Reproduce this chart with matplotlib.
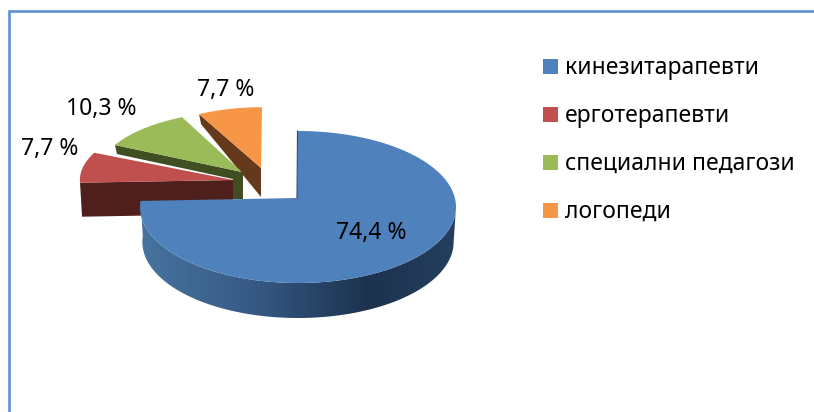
import numpy as np
from matplotlib import pyplot as plt
from matplotlib.patches import Polygon, Rectangle
from matplotlib.colors import LinearSegmentedColormap

plt.rcParams['font.family'] = ['Noto Sans', 'DejaVu Sans']

# data
categories = ['кинезитарапевти', 'ерготерапевти', 'специални педагози', 'логопеди']
values = [74.4, 7.7, 10.3, 7.7]

# styles
top_colors = ['#4f81bd', '#c0504d', '#9bbb59', '#f79646']
face_colors = ['#1f3552', '#4f1f1c', '#3f4f22', '#653a1c']
frame_color = '#5f90cf'

# layout, all in pixels of the picture
RX, RY = 158, 76
# apex of each slice, then the rim centre offset and the perspective shrink
apex = [(297, 198), (233, 180), (242, 172), (261, 168)]
rim_dx = [1, -3, 11, 1]
rim_dy = [9, 0, -1, 0]
scale_x = [1.0, 0.95, 0.966, 0.857]
scale_y = [1.0, 0.84, 0.8, 0.8]
# perspective moves the far end of the big slice round the rim a little
big_slice_skew = 7
label_pos = [(371, 233), (50, 149), (101, 109), (226, 90)]


def rim(i, th):
    """point(s) on the rim of slice i, th in degrees clockwise from 12 o'clock"""
    th = np.radians(th)
    x = apex[i][0] + rim_dx[i] + RX * scale_x[i] * np.sin(th)
    y = apex[i][1] + rim_dy[i] - RY * scale_y[i] * np.cos(th)
    return x, y


fig = plt.figure(figsize=(8.14, 4.12), dpi=100)
ax = fig.add_axes([0, 0, 1, 1])

total = sum(values)
edges = np.cumsum([0] + values) / total * 360
big_end = edges[1] + big_slice_skew

# side of the big slice, shaded from left to right
th = np.linspace(90, big_end, 200)
x, y = rim(0, th)
x_low = 298 + (x - 298) * 0.985
side = Polygon(np.vstack([np.column_stack([x, y]), np.column_stack([x_low, y + 35])[::-1]]),
               closed=True, fc='none', ec='none', zorder=2)
ax.add_patch(side)
cmap = LinearSegmentedColormap.from_list('side', [(0, '#47739f'), (0.35, '#375a85'), (0.72, '#1c324f'), (1, '#253f5e')])
im = ax.imshow(np.linspace(0, 1, 320).reshape(1, -1), cmap=cmap, extent=(141, 457, 325, 190),
               aspect='auto', zorder=2)
im.set_clip_path(side)

# orange, green and red slices, back to front
for i, d_rim, d_apex in [(3, 10, 29), (2, 9, 9), (1, 34, 34)]:
    ax_x, ax_y = apex[i]
    x0, y0 = rim(i, edges[i])
    face = [(x0, y0), (x0 + 2, y0 + d_rim), (ax_x, ax_y + d_apex), (ax_x, ax_y)]
    ax.add_patch(Polygon(face, closed=True, fc=face_colors[i], ec='none', zorder=3 + (3 - i)))
    if i == 2:
        # the end of the green slice that shows behind the red one
        ax.add_patch(Rectangle((ax_x - 9, ax_y), 9.5, 27, fc=face_colors[i], ec='none', zorder=3))
    th = np.linspace(edges[i], edges[i + 1], 40)
    x, y = rim(i, th)
    pts = np.vstack([[apex[i]], np.column_stack([x, y])])
    ax.add_patch(Polygon(pts, closed=True, fc=top_colors[i], ec='none', zorder=3 + (3 - i)))

# top of the big slice
th = np.linspace(0, big_end, 240)
x, y = rim(0, th)
pts = np.vstack([[apex[0]], np.column_stack([x, y])])
ax.add_patch(Polygon(pts, closed=True, fc=top_colors[0], ec='none', zorder=8))
ax.plot([x[0] - 0.5, apex[0][0]], [y[0], apex[0][1]], color='#2c4a70', lw=0.8, zorder=9)

# value labels
for v, (lx, ly) in zip(values, label_pos):
    ax.text(lx, ly, '{:.1f} %'.format(v).replace('.', ','), fontsize=16.5, color='black',
            ha='center', va='center', zorder=10)

# legend
for i, name in enumerate(categories):
    yc = 66.5 + 48 * i
    ax.add_patch(Rectangle((543, yc - 7.5), 15, 15, fc=top_colors[i], ec='none'))
    ax.text(565, yc + 1.5, name, fontsize=16.5, color='black', ha='left', va='center')

# frame, only the top and left sides are in the crop
ax.plot([8.5, 8.5, 814], [412, 10.5, 10.5], color=frame_color, lw=1.9, solid_joinstyle='miter')

ax.set_xlim(0, 814)
ax.set_ylim(412, 0)
ax.axis('off')
plt.savefig('out.png', dpi=100, facecolor='white')
